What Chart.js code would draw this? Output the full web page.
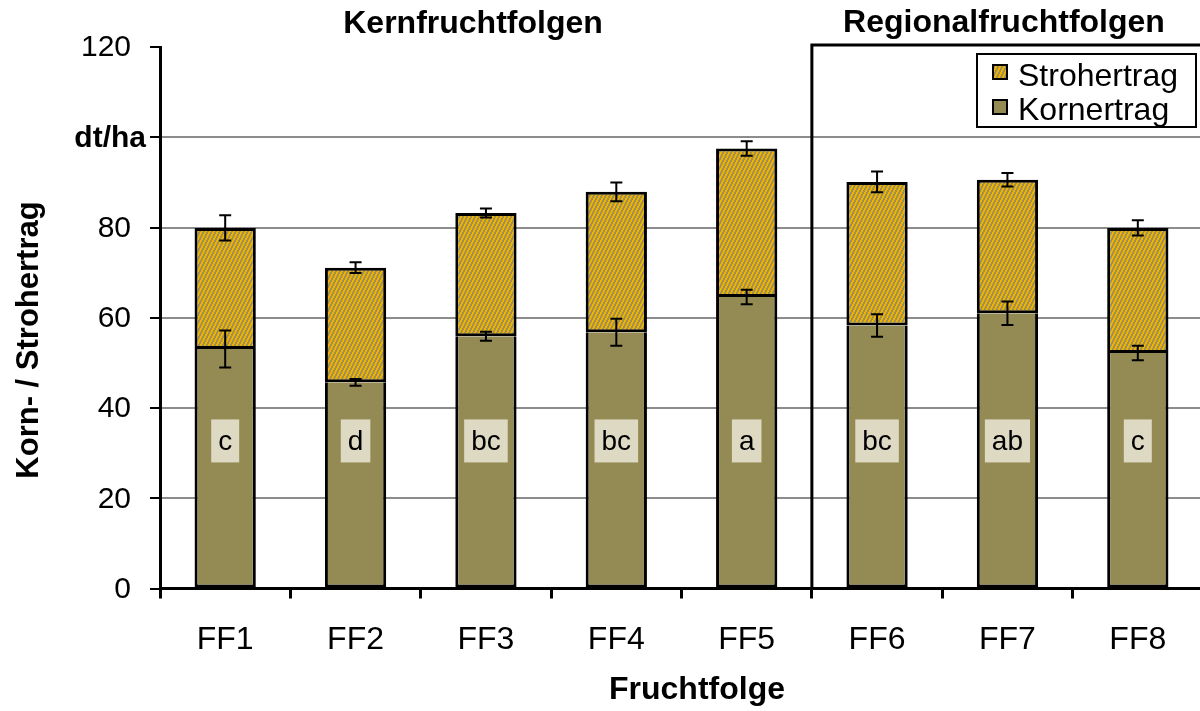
<!DOCTYPE html>
<html>
<head>
<meta charset="utf-8">
<script src="https://cdn.jsdelivr.net/npm/chart.js@4.4.1/dist/chart.umd.min.js"></script>
<style>
  html, body { margin: 0; padding: 0; background: #fff; overflow: hidden; }
  #wrap { width: 1206px; height: 711px; }
</style>
</head>
<body>
<div id="wrap"><canvas id="c" width="1206" height="711"></canvas></div>
<script>
// Crop rotations (Fruchtfolgen)
const categories = ['FF1', 'FF2', 'FF3', 'FF4', 'FF5', 'FF6', 'FF7', 'FF8'];
// Grain yield (dt/ha)
const kornertrag = [53.1, 45.7, 55.9, 56.8, 64.6, 58.3, 61.0, 52.2];
// Straw yield stacked on top (dt/ha)
const strohertrag = [26.8, 25.4, 27.3, 31.1, 32.9, 31.8, 29.6, 27.7];
// Standard errors
const kornFehler = [4.1, 0.75, 1.0, 3.0, 1.6, 2.5, 2.6, 1.6];
const gesamtFehler = [2.8, 1.2, 1.0, 2.1, 1.6, 2.3, 1.5, 1.7];
// Significance letters for grain yield
const buchstaben = ['c', 'd', 'bc', 'bc', 'a', 'bc', 'ab', 'c'];
// Y axis ticks
const yTicks = [0, 20, 40, 60, 80, 100, 120];
const yTickLabels = ['0', '20', '40', '60', '80', 'dt/ha', '120'];
// Group headings
const gruppen = ['Kernfruchtfolgen', 'Regionalfruchtfolgen'];

const FONT = '"Liberation Sans", Arial, sans-serif';
const KORN_COLOR = '#948A54';

// Diagonal hatch fill for the straw segment
function hatchPattern() {
  const t = document.createElement('canvas');
  t.width = 4; t.height = 8;
  const g = t.getContext('2d');
  for (let x = 0; x < 4; x++) {
    for (let y = 0; y < 8; y++) {
      g.fillStyle = ((2 * x + y) % 8 < 4) ? '#EFB200' : '#9E8F55';
      g.fillRect(x, y, 1, 1);
    }
  }
  return g.createPattern(t, 'repeat');
}
const ctx0 = document.getElementById('c').getContext('2d');
const STROH_FILL = hatchPattern();

const decorPlugin = {
  id: 'decor',
  afterDatasetsDraw(chart) {
    const ctx = chart.ctx;
    const xs = chart.scales.x, ys = chart.scales.y;
    const area = chart.chartArea;
    ctx.save();

    // error bars
    ctx.strokeStyle = '#000';
    ctx.lineWidth = 2;
    const cap = 6;
    const drawErr = (cx, v, e) => {
      const y1 = ys.getPixelForValue(v + e), y2 = ys.getPixelForValue(v - e);
      ctx.beginPath();
      ctx.moveTo(cx, y1); ctx.lineTo(cx, y2);
      ctx.moveTo(cx - cap, y1); ctx.lineTo(cx + cap, y1);
      ctx.moveTo(cx - cap, y2); ctx.lineTo(cx + cap, y2);
      ctx.stroke();
    };
    categories.forEach((c, i) => {
      const cx = xs.getPixelForValue(i);
      drawErr(cx, kornertrag[i], kornFehler[i]);
      drawErr(cx, kornertrag[i] + strohertrag[i], gesamtFehler[i]);
    });

    // significance letters
    ctx.font = '28px ' + FONT;
    ctx.textAlign = 'center';
    ctx.textBaseline = 'middle';
    buchstaben.forEach((b, i) => {
      const cx = xs.getPixelForValue(i);
      const cy = ys.getPixelForValue(32.7);
      const w = ctx.measureText(b).width + 14;
      ctx.fillStyle = '#DDD9C3';
      ctx.fillRect(cx - w / 2, cy - 21.5, w, 43);
      ctx.fillStyle = '#000';
      ctx.fillText(b, cx, cy + 1);
    });

    // separator between groups, with a top rule over the second group
    const sepX = (xs.getPixelForValue(4) + xs.getPixelForValue(5)) / 2;
    ctx.lineWidth = 3;
    ctx.beginPath();
    ctx.moveTo(sepX, area.bottom);
    ctx.lineTo(sepX, area.top - 2);
    ctx.lineTo(area.right + 3, area.top - 2);
    ctx.stroke();

    // group headings
    ctx.font = 'bold 32px ' + FONT;
    ctx.fillStyle = '#000';
    ctx.fillText(gruppen[0], 473, 24);
    ctx.fillText(gruppen[1], 1004, 23);

    // y tick labels
    ctx.textAlign = 'right';
    yTicks.forEach((v, i) => {
      const y = ys.getPixelForValue(v);
      const lbl = yTickLabels[i];
      if (lbl === 'dt/ha') {
        ctx.font = 'bold 30px ' + FONT;
        ctx.fillText(lbl, 146, y + 1);
      } else {
        ctx.font = '30px ' + FONT;
        ctx.fillText(lbl, 131, y + 1);
      }
    });

    // axis titles
    ctx.font = 'bold 32px ' + FONT;
    ctx.textAlign = 'center';
    ctx.fillText('Fruchtfolge', 697, 690);
    ctx.save();
    ctx.translate(29, 340);
    ctx.rotate(-Math.PI / 2);
    ctx.font = 'bold 31px ' + FONT;
    ctx.fillText('Korn- / Strohertrag', 0, 0);
    ctx.restore();

    // legend
    const lx = 977, ly = 54, lw = 219, lh = 73;
    ctx.fillStyle = '#fff';
    ctx.fillRect(lx, ly, lw, lh);
    ctx.lineWidth = 2;
    ctx.strokeStyle = '#000';
    ctx.strokeRect(lx, ly, lw, lh);
    const items = [[chart.data.datasets[1].label, STROH_FILL, 72, 77], [chart.data.datasets[0].label, KORN_COLOR, 107, 111]];
    ctx.font = '32px ' + FONT;
    ctx.textAlign = 'left';
    items.forEach(([label, fill, sy, ty]) => {
      ctx.fillStyle = fill;
      ctx.fillRect(993, sy - 7, 14, 14);
      ctx.lineWidth = 2;
      ctx.strokeRect(993, sy - 7, 14, 14);
      ctx.fillStyle = '#000';
      ctx.fillText(label, 1018, ty);
    });

    ctx.restore();
  }
};

new Chart(ctx0, {
  type: 'bar',
  data: {
    labels: categories,
    datasets: [
      {
        label: 'Kornertrag',
        data: kornertrag,
        backgroundColor: KORN_COLOR,
        borderColor: '#000',
        borderWidth: { top: 0, left: 3, right: 3, bottom: 3 },
        borderSkipped: false
      },
      {
        label: 'Strohertrag',
        data: strohertrag,
        backgroundColor: STROH_FILL,
        borderColor: '#000',
        borderWidth: 3,
        borderSkipped: false
      }
    ]
  },
  options: {
    responsive: false,
    animation: false,
    events: [],
    layout: { padding: { top: 47, right: 3, left: 0, bottom: 0 } },
    datasets: { bar: { barPercentage: 0.47, categoryPercentage: 1 } },
    plugins: { legend: { display: false }, tooltip: { enabled: false } },
    scales: {
      x: {
        stacked: true,
        afterFit(s) { s.height = 122.5; },
        border: { color: '#000', width: 3 },
        grid: { offset: true, drawOnChartArea: false, tickColor: '#000', tickLength: 10, tickWidth: 3 },
        ticks: { color: '#000', font: { family: FONT, size: 32 }, padding: 22 }
      },
      y: {
        stacked: true,
        min: 0,
        max: 120,
        afterFit(s) { s.width = 160; },
        border: { color: '#000', width: 3 },
        grid: {
          color: c => (c.tick && c.tick.value > 0 && c.tick.value < 120) ? '#8C8C8C' : 'rgba(0,0,0,0)',
          lineWidth: 2,
          tickColor: '#000',
          tickLength: 10,
          tickWidth: 2
        },
        ticks: { stepSize: 20, display: true, color: 'rgba(0,0,0,0)', font: { family: FONT, size: 26 } }
      }
    }
  },
  plugins: [decorPlugin]
});
</script>
</body>
</html>
